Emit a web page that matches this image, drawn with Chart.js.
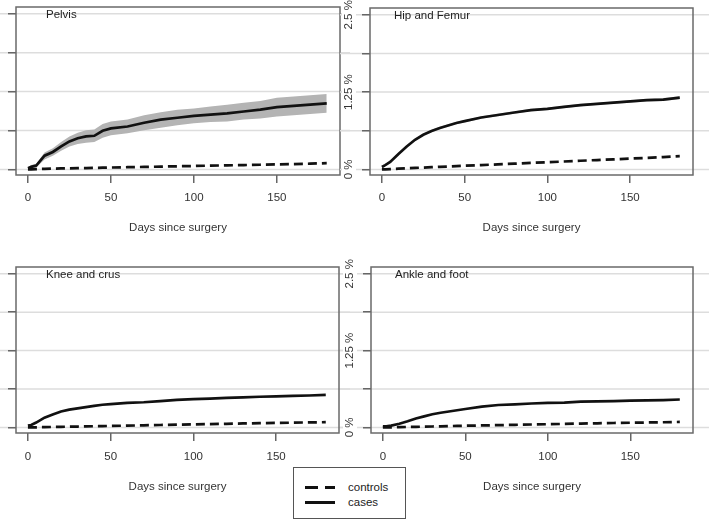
<!DOCTYPE html>
<html>
<head>
<meta charset="utf-8">
<script src="https://cdn.jsdelivr.net/npm/chart.js@4.4.0/dist/chart.umd.min.js"></script>
<style>
  body { margin: 0; background: #fff; }
  #wrap { position: relative; width: 709px; height: 521px; overflow: hidden;
          font-family: "Liberation Sans", Arial, sans-serif; color: #222; }
  canvas { position: absolute; }
  #legend { position: absolute; left: 293px; top: 467px; width: 113px; height: 52px;
            border: 1px solid #555; background: #fff; box-sizing: border-box; }
  .row { position: absolute; left: 0; height: 14px; font-size: 11.5px; line-height: 14px; }
  .seg { position: absolute; height: 3px; background: #111; top: 6px; }
  .lab { position: absolute; left: 54px; top: 0; }
</style>
</head>
<body>
<div id="wrap">
  <canvas id="p1" width="350" height="250" style="left:0;top:0"></canvas>
  <canvas id="p2" width="369" height="250" style="left:340px;top:0"></canvas>
  <canvas id="p3" width="350" height="271" style="left:0;top:250px"></canvas>
  <canvas id="p4" width="369" height="271" style="left:340px;top:250px"></canvas>
  <div id="legend">
    <div class="row" style="top:12px;width:110px">
      <div class="seg" style="left:11px;width:13px"></div>
      <div class="seg" style="left:31px;width:10px"></div>
      <div class="lab">controls</div>
    </div>
    <div class="row" style="top:27px;width:110px">
      <div class="seg" style="left:11px;width:30px"></div>
      <div class="lab">cases</div>
    </div>
  </div>
</div>
<script>
// days since surgery
const days = [0, 2, 5, 10, 15, 20, 25, 30, 35, 40, 45, 50, 60, 70, 80, 90, 100, 110, 120, 130, 140, 150, 160, 170, 180];

// cumulative incidence, %
const pelvisCases    = [0.02, 0.04, 0.06, 0.22, 0.28, 0.37, 0.45, 0.50, 0.53, 0.54, 0.62, 0.66, 0.69, 0.75, 0.80, 0.83, 0.86, 0.88, 0.90, 0.93, 0.96, 1.00, 1.02, 1.04, 1.06];
const pelvisUpper    = [0.04, 0.07, 0.09, 0.27, 0.34, 0.44, 0.53, 0.59, 0.63, 0.64, 0.73, 0.77, 0.80, 0.87, 0.92, 0.96, 0.98, 1.01, 1.04, 1.07, 1.10, 1.15, 1.17, 1.19, 1.21];
const pelvisLower    = [0.00, 0.02, 0.03, 0.16, 0.22, 0.30, 0.37, 0.41, 0.43, 0.44, 0.51, 0.55, 0.58, 0.63, 0.67, 0.71, 0.74, 0.76, 0.77, 0.80, 0.82, 0.85, 0.87, 0.89, 0.91];
const pelvisControls = [0.00, 0.00, 0.005, 0.01, 0.012, 0.015, 0.017, 0.02, 0.022, 0.025, 0.027, 0.03, 0.035, 0.04, 0.045, 0.05, 0.055, 0.06, 0.065, 0.07, 0.075, 0.08, 0.085, 0.092, 0.10];

const hipCases    = [0.04, 0.07, 0.12, 0.25, 0.37, 0.48, 0.56, 0.62, 0.67, 0.71, 0.75, 0.78, 0.84, 0.88, 0.92, 0.96, 0.98, 1.01, 1.04, 1.06, 1.08, 1.10, 1.12, 1.13, 1.16];
const hipUpper    = [0.05, 0.08, 0.135, 0.265, 0.385, 0.495, 0.575, 0.64, 0.69, 0.73, 0.77, 0.80, 0.86, 0.90, 0.94, 0.98, 1.00, 1.03, 1.06, 1.08, 1.10, 1.12, 1.14, 1.155, 1.185];
const hipLower    = [0.03, 0.06, 0.105, 0.235, 0.355, 0.465, 0.545, 0.60, 0.65, 0.69, 0.73, 0.76, 0.82, 0.86, 0.90, 0.94, 0.96, 0.99, 1.02, 1.04, 1.06, 1.08, 1.10, 1.105, 1.135];
const hipControls = [0.00, 0.002, 0.006, 0.012, 0.018, 0.024, 0.03, 0.036, 0.042, 0.047, 0.053, 0.06, 0.07, 0.082, 0.093, 0.105, 0.117, 0.128, 0.14, 0.152, 0.163, 0.175, 0.187, 0.20, 0.215];

const kneeCases    = [0.03, 0.04, 0.08, 0.16, 0.21, 0.26, 0.29, 0.31, 0.33, 0.35, 0.37, 0.38, 0.40, 0.41, 0.43, 0.45, 0.46, 0.47, 0.48, 0.49, 0.50, 0.505, 0.515, 0.52, 0.53];
const kneeControls = [0.00, 0.00, 0.002, 0.005, 0.008, 0.01, 0.013, 0.015, 0.018, 0.02, 0.022, 0.025, 0.03, 0.035, 0.04, 0.045, 0.05, 0.055, 0.06, 0.065, 0.07, 0.074, 0.078, 0.082, 0.086];

const ankleCases    = [0.02, 0.02, 0.03, 0.06, 0.10, 0.145, 0.18, 0.215, 0.24, 0.26, 0.28, 0.30, 0.34, 0.365, 0.375, 0.39, 0.40, 0.405, 0.42, 0.425, 0.43, 0.435, 0.44, 0.445, 0.455];
const ankleControls = [0.00, 0.00, 0.002, 0.005, 0.008, 0.01, 0.013, 0.016, 0.019, 0.022, 0.025, 0.028, 0.033, 0.038, 0.043, 0.048, 0.053, 0.058, 0.063, 0.068, 0.073, 0.077, 0.081, 0.085, 0.09];

const xTicks = [0, 50, 100, 150];
const yTicks = [0, 0.625, 1.25, 1.875, 2.5];
const yLabelTicks = [0, 1.25, 2.5];
const yLabels = ["0 %", "1.25 %", "2.5 %"];

const FONT = '"Liberation Sans", Arial, sans-serif';

function series(vals) {
  return days.map((d, i) => ({ x: d, y: vals[i] }));
}

// gridlines across the whole width, box, panel title, rotated % labels
const framePlugin = {
  id: "frame",
  beforeDraw(chart) {
    const ctx = chart.ctx, y = chart.scales.y;
    ctx.save();
    ctx.strokeStyle = "#dddddd";
    ctx.lineWidth = 1.5;
    yTicks.forEach(v => {
      const py = y.getPixelForValue(v);
      ctx.beginPath();
      ctx.moveTo(0, py);
      ctx.lineTo(chart.width, py);
      ctx.stroke();
    });
    ctx.restore();
  },
  afterDraw(chart, args, opts) {
    const ctx = chart.ctx, a = chart.chartArea, y = chart.scales.y;
    ctx.save();
    ctx.strokeStyle = "#6a6a6a";
    ctx.lineWidth = 1.5;
    ctx.strokeRect(a.left, a.top, a.right - a.left, a.bottom - a.top);
    ctx.fillStyle = "#222";
    ctx.font = "11.5px " + FONT;
    ctx.textBaseline = "middle";
    ctx.textAlign = "left";
    ctx.fillText(opts.title, a.left + opts.titleDx, a.top + 8);
    if (opts.sideLabels) {
      const lx = a.left - 21;
      yLabelTicks.forEach((v, i) => {
        const py = y.getPixelForValue(v);
        const w = ctx.measureText(yLabels[i]).width;
        ctx.fillStyle = "#fff";
        ctx.fillRect(lx - 7, py - w / 2 - 3, 14, w + 6);
        ctx.fillStyle = "#333";
        ctx.save();
        ctx.translate(lx, py);
        ctx.rotate(-Math.PI / 2);
        ctx.textAlign = "center";
        ctx.fillText(yLabels[i], 0, 0);
        ctx.restore();
      });
    }
    ctx.restore();
  }
};

function makePanel(id, p) {
  // datasets with a higher index are drawn first, so the band goes last
  const datasets = [];
  datasets.push({ label: "cases", data: series(p.cases), borderColor: "#111",
                  borderWidth: 2.7, pointRadius: 0, fill: false });
  datasets.push({ label: "controls", data: series(p.controls), borderColor: "#111",
                  borderWidth: 2.7, borderDash: [9, 5], pointRadius: 0, fill: false });
  if (p.upper) {
    datasets.push({ data: series(p.upper), fill: "+1", backgroundColor: p.bandColor,
                    borderWidth: 0, pointRadius: 0 });
    datasets.push({ data: series(p.lower), fill: false, borderWidth: 0, pointRadius: 0 });
  }

  return new Chart(document.getElementById(id), {
    type: "line",
    data: { datasets },
    options: {
      responsive: false,
      animation: false,
      events: [],
      layout: { padding: p.padding },
      plugins: {
        legend: { display: false },
        tooltip: { enabled: false },
        frame: { title: p.title, titleDx: p.titleDx, sideLabels: p.sideLabels }
      },
      scales: {
        x: {
          type: "linear", min: -7.2, max: 188,
          afterBuildTicks: s => { s.ticks = xTicks.map(v => ({ value: v })); },
          ticks: { font: { family: FONT, size: 11.5 }, color: "#333", padding: p.tickPad, maxRotation: 0 },
          grid: { drawOnChartArea: false, tickLength: 8, color: "#666", lineWidth: 1.5 },
          border: { display: false },
          title: { display: true, text: "Days since surgery", color: "#333",
                   font: { family: FONT, size: 11.5 }, padding: { top: 0, bottom: p.titlePad } },
          afterFit: s => { s.height = p.xHeight; }
        },
        y: {
          type: "linear", min: -0.09, max: 2.61,
          afterBuildTicks: s => { s.ticks = yTicks.map(v => ({ value: v })); },
          ticks: { display: false },
          grid: { drawOnChartArea: false, tickLength: 8, color: "#666", lineWidth: 1.5 },
          border: { display: false },
          afterFit: s => { s.width = 16; }
        }
      }
    },
    plugins: [framePlugin]
  });
}

makePanel("p1", { title: "Pelvis", titleDx: 30, sideLabels: false,
  cases: pelvisCases, controls: pelvisControls, upper: pelvisUpper, lower: pelvisLower, bandColor: "#b4b4b4",
  padding: { left: 0, top: 7, right: 10, bottom: 0 }, xHeight: 75, tickPad: 8, titlePad: 15 });

makePanel("p2", { title: "Hip and Femur", titleDx: 24, sideLabels: true,
  cases: hipCases, controls: hipControls, upper: hipUpper, lower: hipLower, bandColor: "#c8c8c8",
  padding: { left: 14, top: 8, right: 16, bottom: 0 }, xHeight: 75, tickPad: 8, titlePad: 15 });

makePanel("p3", { title: "Knee and crus", titleDx: 30, sideLabels: false,
  cases: kneeCases, controls: kneeControls,
  padding: { left: 0, top: 17, right: 11, bottom: 0 }, xHeight: 88, tickPad: 9, titlePad: 27 });

makePanel("p4", { title: "Ankle and foot", titleDx: 24, sideLabels: true,
  cases: ankleCases, controls: ankleControls,
  padding: { left: 15, top: 17, right: 16, bottom: 0 }, xHeight: 88, tickPad: 9, titlePad: 27 });
</script>
</body>
</html>
